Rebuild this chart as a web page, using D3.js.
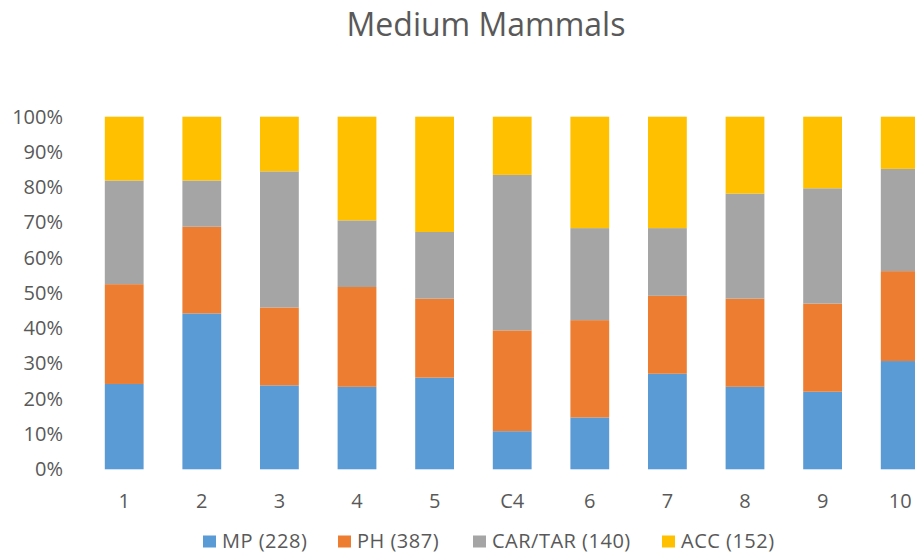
<!DOCTYPE html>
<html lang="en">
<head>
<meta charset="UTF-8">
<title>Medium Mammals</title>
<style>
  body { margin: 0; background: #fff; }
  svg { display: block; font-family: "Open Sans", sans-serif; }
</style>
</head>
<body>
<div id="chart"></div>
<script src="https://cdn.jsdelivr.net/npm/d3@7"></script>
<script>
const categories = ['1', '2', '3', '4', '5', 'C4', '6', '7', '8', '9', '10'];
const seriesNames = ['MP (228)', 'PH (387)', 'CAR/TAR (140)', 'ACC (152)'];

// percent share of each group per sample
const mp     = [24.2, 44.2, 23.8, 23.4, 26.0, 10.8, 14.7, 27.1, 23.4, 22.0, 30.7];
const ph     = [28.3, 24.6, 22.1, 28.3, 22.4, 28.6, 27.6, 22.1, 25.0, 25.0, 25.5];
const carTar = [29.4, 13.1, 38.6, 18.9, 18.9, 44.1, 26.1, 19.2, 29.8, 32.7, 29.0];
const acc    = [18.1, 18.1, 15.5, 29.4, 32.7, 16.5, 31.6, 31.6, 21.8, 20.3, 14.8];

const yTicks = [0, 0.1, 0.2, 0.3, 0.4, 0.5, 0.6, 0.7, 0.8, 0.9, 1];
const colors = ['#5B9BD5', '#ED7D31', '#A5A5A5', '#FFC000'];

const w = 915, h = 556;
const rows = categories.map((c, i) => ({
    cat: c,
    [seriesNames[0]]: mp[i],
    [seriesNames[1]]: ph[i],
    [seriesNames[2]]: carTar[i],
    [seriesNames[3]]: acc[i]
}));

const stacked = d3.stack()
    .keys(seriesNames)
    .offset(d3.stackOffsetExpand)(rows);

const svg = d3.select('#chart').append('svg')
    .attr('width', w)
    .attr('height', h);

// plot runs past the right edge, last bar is cut like in the original
const x = d3.scaleBand()
    .domain(categories)
    .range([85.4, 939])
    .paddingInner(0.5)
    .paddingOuter(0.25);

const y = d3.scaleLinear()
    .domain([0, 1])
    .range([469.3, 116.7]);

svg.append('text')
    .attr('x', 486)
    .attr('y', 36)
    .attr('text-anchor', 'middle')
    .attr('font-size', '32px')
    .attr('fill', '#595959')
    .text('Medium Mammals');

svg.append('g')
    .selectAll('g')
    .data(stacked)
    .enter()
    .append('g')
    .attr('fill', (d, i) => colors[i])
    .selectAll('rect')
    .data(d => d)
    .enter()
    .append('rect')
    .attr('x', d => x(d.data.cat))
    .attr('width', x.bandwidth())
    .attr('y', d => y(d[1]))
    .attr('height', d => y(d[0]) - y(d[1]));

const yAxis = svg.append('g')
    .attr('transform', 'translate(72,0)')
    .call(d3.axisLeft(y).tickValues(yTicks).tickFormat(d3.format('.0%')).tickSize(0).tickPadding(9));
yAxis.select('.domain').remove();
yAxis.selectAll('text')
    .attr('font-family', '"Open Sans", sans-serif')
    .attr('font-size', '20px')
    .attr('fill', '#595959');

const xAxis = svg.append('g')
    .attr('transform', 'translate(0,469.3)')
    .call(d3.axisBottom(x).tickSize(0).tickPadding(25));
xAxis.select('.domain').remove();
xAxis.selectAll('text')
    .attr('font-family', '"Open Sans", sans-serif')
    .attr('font-size', '20px')
    .attr('fill', '#595959');

// legend
const legendX = [203, 338, 473, 662];
const legend = svg.append('g')
    .selectAll('g')
    .data(seriesNames)
    .enter()
    .append('g')
    .attr('transform', (d, i) => `translate(${legendX[i]},535.5)`);
legend.append('rect')
    .attr('width', 13)
    .attr('height', 12)
    .attr('fill', (d, i) => colors[i]);
legend.append('text')
    .attr('x', 19)
    .attr('y', 12.3)
    .attr('font-size', '20px')
    .attr('letter-spacing', '0.5px')
    .attr('fill', '#595959')
    .text(d => d);
</script>
</body>
</html>
